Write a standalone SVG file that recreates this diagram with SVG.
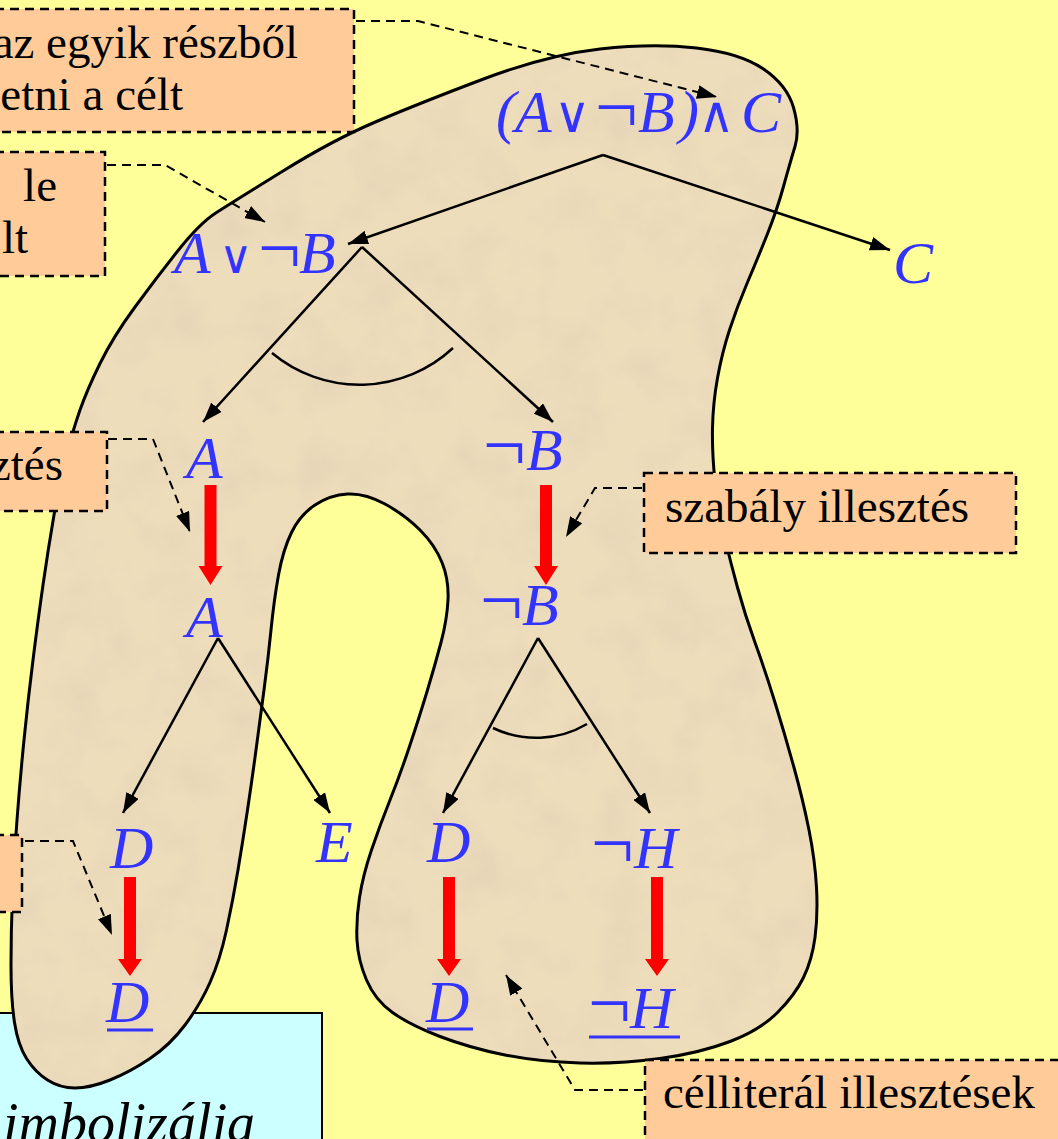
<svg xmlns="http://www.w3.org/2000/svg" width="1058" height="1139" viewBox="0 0 1058 1139">
<style>
.box{fill:#FFCC99;stroke:#000;stroke-width:2.5;stroke-dasharray:9 6}
.bt{font-family:"Liberation Serif","Times New Roman",serif;font-size:47px;fill:#000}
.f{font-family:"Liberation Serif","Times New Roman",serif;font-size:60px;font-style:italic;fill:#3333FF}
.op{font-family:"DejaVu Sans","DejaVu Serif",sans-serif;font-style:normal;font-weight:200;font-size:50px}
.u{font-style:normal;font-size:76px}
.ln{fill:none;stroke:#000;stroke-width:2.5}
.ld{fill:none;stroke:#000;stroke-width:2;stroke-dasharray:9 6}
.red{fill:#FF0000}
.ul{stroke:#3333FF;stroke-width:3}
</style>
<defs>
<marker id="ah" viewBox="0 0 20 14" refX="20" refY="7" markerWidth="20" markerHeight="14" markerUnits="userSpaceOnUse" orient="auto"><path d="M0,0 L20,7 L0,14 z" fill="#000"/></marker>
<filter id="tex" x="0" y="0" width="1" height="1">
<feTurbulence type="fractalNoise" baseFrequency="0.02" numOctaves="4" seed="7" result="n"/>
<feColorMatrix in="n" type="matrix" values="0 0 0 0 0.76  0 0 0 0 0.65  0 0 0 0 0.47  0 0 0 1.4 -0.58" result="c"/>
<feComposite in="c" in2="SourceGraphic" operator="in"/>
</filter>
<path id="blobpath" d="M66.5,455 Q73,430 80,410 Q87,390 100,363.5 Q113,337 135,307 Q157,277 178.5,250 Q200,223 216.5,212.5 Q233,202 283,171 Q333,140 376.5,121.5 Q420,103 483.5,79 Q547,55 600,49 Q653,43 696.5,48 Q740,53 763.5,69 Q787,85 793.5,107.5 Q800,130 795,146.5 Q790,163 783.5,186.5 Q777,210 767,235 Q757,260 747,283.5 Q737,307 729.5,330 Q722,353 717.5,378 Q713,403 712.5,428 Q712,453 715,481.5 Q718,510 724,535 Q730,560 737.5,587.5 Q745,615 755,642.5 Q765,670 775,702.5 Q785,735 794,767.5 Q803,800 809,830 Q815,860 816.5,887.5 Q818,915 815,937.5 Q812,960 803.5,977.5 Q795,995 777.5,1012.5 Q760,1030 730,1041.5 Q700,1053 660,1058.5 Q620,1064 580,1063 Q540,1062 505,1055 Q470,1048 440,1036.5 Q410,1025 392.5,1012.5 Q375,1000 366.5,980 Q358,960 357,940 Q356,920 359.5,897.5 Q363,875 371.5,850 Q380,825 390,800 Q400,775 410,745 Q420,715 427.5,690 Q435,665 441,642.5 Q447,620 448,600 Q449,580 442,562.5 Q435,545 420,530 Q405,515 385,504 Q365,493 347.5,494 Q330,495 315,505 Q300,515 291.5,532.5 Q283,550 278.5,575 Q274,600 271,630 Q268,660 264,690 Q260,720 256,750 Q252,780 247.5,810 Q243,840 238,870 Q233,900 226.5,930 Q220,960 210,982.5 Q200,1005 185,1025 Q170,1045 150,1058.5 Q130,1072 110,1080 Q90,1088 75,1088 Q60,1088 47.5,1080 Q35,1072 26.5,1058.5 Q18,1045 14.5,1022.5 Q11,1000 11,965 Q11,930 12.5,895 Q14,860 17,820 Q20,780 24,740 Q28,700 33,660 Q38,620 43,585 Q48,550 54,515 Q60,480 66.5,455 Z"/>
</defs>
<rect x="0" y="0" width="1058" height="1139" fill="#FFFF99"/>
<g id="cyan-box"><rect x="-2" y="1013" width="324" height="140" fill="#CCFFFF" stroke="#000" stroke-width="2"/>
<text x="255" y="1142" text-anchor="end" style="font-family:'Liberation Serif','Times New Roman',serif;font-size:56px;font-style:italic;fill:#000">imbolizálja</text></g>
<g id="blob">
<use href="#blobpath" fill="#EEDDBB"/>
<use href="#blobpath" fill="#000" filter="url(#tex)"/>
<use href="#blobpath" fill="none" stroke="#000" stroke-width="3"/>
</g>
<g id="connectors">
<path class="ln" d="M603,155 L348,244" marker-end="url(#ah)"/>
<path class="ln" d="M603,155 L890,250" marker-end="url(#ah)"/>
<path class="ln" d="M362,247 L203,422" marker-end="url(#ah)"/>
<path class="ln" d="M362,247 L553,422" marker-end="url(#ah)"/>
<path class="ln" d="M272,353 A137,137 0 0 0 453,348"/>
<path class="ln" d="M218,638 L123,813" marker-end="url(#ah)"/>
<path class="ln" d="M218,638 L330,813" marker-end="url(#ah)"/>
<path class="ln" d="M538,638 L443,813" marker-end="url(#ah)"/>
<path class="ln" d="M538,638 L650,813" marker-end="url(#ah)"/>
<path class="ln" d="M493,728 A100,100 0 0 0 587,724"/>
<path class="red" d="M204.5,485 H216.5 V566 H222.5 L210.5,585 L198.5,566 H204.5 Z"/>
<path class="red" d="M540,485 H552 V566 H558 L546,585 L534,566 H540 Z"/>
<path class="red" d="M124,877 H136 V959 H142 L130,976 L118,959 H124 Z"/>
<path class="red" d="M443,877 H455 V959 H461 L449,976 L437,959 H443 Z"/>
<path class="red" d="M651,877 H663 V959 H669 L657,976 L645,959 H651 Z"/>
<path class="ld" d="M356,21 L418,21 L717,97" marker-end="url(#ah)"/>
<path class="ld" d="M107,165 L165,165 L265,222" marker-end="url(#ah)"/>
<path class="ld" d="M108,439 L153,439 L190,532" marker-end="url(#ah)"/>
<path class="ld" d="M25,841 L73,841 L112,935" marker-end="url(#ah)"/>
<path class="ld" d="M642,488 L595,488 L566,537" marker-end="url(#ah)"/>
<path class="ld" d="M643,1090 L575,1090 L506,975" marker-end="url(#ah)"/>
</g>
<g id="note-top"><rect class="box" x="-5" y="9" width="359" height="123"/><text class="bt" x="298" y="58" text-anchor="end">az egyik részből</text><text class="bt" x="183" y="110" text-anchor="end">etni a célt</text></g>
<g id="note-le"><rect class="box" x="-5" y="152" width="110" height="124"/><text class="bt" x="57" y="201" text-anchor="end">le</text><text class="bt" x="28" y="253" text-anchor="end">lt</text></g>
<g id="note-ztes"><rect class="box" x="-5" y="432" width="112" height="79"/><text class="bt" x="63" y="480" text-anchor="end">ztés</text></g>
<g id="note-left"><rect class="box" x="-5" y="835" width="27" height="77"/></g>
<g id="note-szabaly"><rect class="box" x="644" y="473" width="372" height="80"/><text class="bt" x="665" y="522">szabály illesztés</text></g>
<g id="note-cellit"><rect class="box" x="645" y="1060" width="420" height="90"/><text class="bt" x="663" y="1108">célliterál illesztések</text></g>
<g id="n-root"><text class="f" y="132"><tspan x="496">(</tspan><tspan x="515">A</tspan><tspan x="554" class="op">∨</tspan><tspan x="595" class="u">¬</tspan><tspan x="638">B</tspan><tspan x="679">)</tspan><tspan x="698" class="op">∧</tspan><tspan x="741">C</tspan></text></g>
<g id="n-or"><text class="f" y="273"><tspan x="174">A</tspan><tspan x="219" class="op" style="font-size:46px">∨</tspan><tspan x="258" class="u">¬</tspan><tspan x="299">B</tspan></text></g>
<g id="n-c"><text class="f" x="893" y="283">C</text></g>
<g id="n-a1"><text class="f" x="186" y="478">A</text></g>
<g id="n-nb1"><text class="f" y="470"><tspan x="483" class="u">¬</tspan><tspan x="526">B</tspan></text></g>
<g id="n-a2"><text class="f" x="186" y="637">A</text></g>
<g id="n-nb2"><text class="f" y="625"><tspan x="480" class="u">¬</tspan><tspan x="522">B</tspan></text></g>
<g id="n-d1"><text class="f" x="110" y="868">D</text></g>
<g id="n-e"><text class="f" x="316" y="862">E</text></g>
<g id="n-d2"><text class="f" x="427" y="862">D</text></g>
<g id="n-nh1"><text class="f" y="868"><tspan x="591" class="u">¬</tspan><tspan x="634">H</tspan></text></g>
<g id="n-d3"><text class="f" x="106" y="1022">D</text><line class="ul" x1="107" y1="1030" x2="153" y2="1030"/></g>
<g id="n-d4"><text class="f" x="426" y="1022">D</text><line class="ul" x1="427" y1="1029" x2="473" y2="1029"/></g>
<g id="n-nh2"><text class="f" y="1028"><tspan x="588" class="u">¬</tspan><tspan x="630">H</tspan></text><line class="ul" x1="589" y1="1037" x2="680" y2="1037"/></g>
</svg>
